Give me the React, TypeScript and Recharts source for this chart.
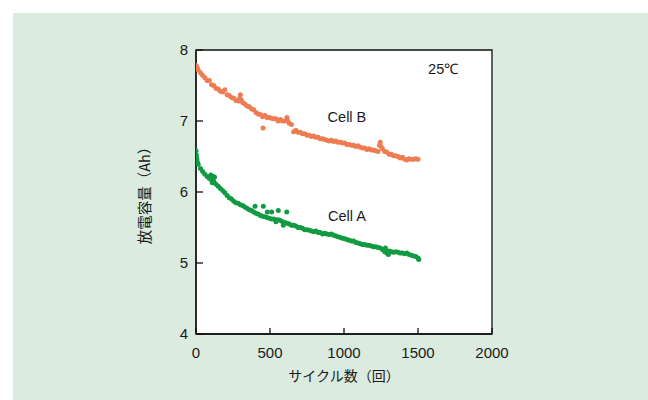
import React from 'react';
import {
  ScatterChart,
  Scatter,
  XAxis,
  YAxis,
  CartesianGrid,
  ReferenceArea,
  ReferenceDot,
} from 'recharts';

// ---- Data ----
const xTicks = [0, 500, 1000, 1500, 2000];
const yTicks = [4, 5, 6, 7, 8];

const cellBCycles = [
  0, 5, 10, 15, 30, 45, 60, 75, 90, 105, 120, 135, 150, 165, 180, 195, 210, 225, 240, 255,
  270, 285, 295, 300, 305, 315, 330, 345, 360, 375, 390, 405, 420, 435, 450, 453, 465, 480, 495, 510,
  525, 540, 555, 570, 585, 600, 615, 620, 630, 645, 660, 675, 690, 705, 720, 735, 750, 765, 780, 795,
  810, 825, 840, 855, 870, 885, 900, 915, 930, 945, 960, 975, 990, 1005, 1020, 1035, 1050, 1065, 1080, 1095,
  1110, 1125, 1140, 1155, 1170, 1185, 1200, 1215, 1230, 1240, 1245, 1250, 1260, 1275, 1290, 1305, 1320, 1335, 1350, 1365,
  1380, 1395, 1410, 1425, 1440, 1455, 1470, 1485, 1500,
];
const cellBCapacity = [
  7.78, 7.76, 7.74, 7.72, 7.68, 7.64, 7.61, 7.57, 7.57, 7.51, 7.5, 7.46, 7.45, 7.42, 7.41, 7.44, 7.37, 7.36, 7.33, 7.32,
  7.29, 7.28, 7.32, 7.37, 7.3, 7.26, 7.24, 7.21, 7.2, 7.17, 7.16, 7.12, 7.1, 7.09, 7.06, 6.9, 7.08, 7.05, 7.05, 7.04,
  7.03, 7.03, 7.0, 7.02, 7.0, 7.0, 7.05, 7.0, 6.97, 6.95, 6.85, 6.87, 6.84, 6.84, 6.82, 6.82, 6.8, 6.8, 6.78, 6.79,
  6.77, 6.77, 6.75, 6.75, 6.74, 6.73, 6.72, 6.73, 6.71, 6.72, 6.7, 6.7, 6.69, 6.69, 6.67, 6.67, 6.66, 6.66, 6.64, 6.65,
  6.63, 6.62, 6.62, 6.6, 6.61, 6.59, 6.59, 6.58, 6.57, 6.66, 6.7, 6.64, 6.61, 6.57, 6.56, 6.53, 6.53, 6.51, 6.51, 6.5,
  6.48, 6.49, 6.46, 6.45, 6.47, 6.46, 6.46, 6.47, 6.46,
];

const cellACycles = [
  0, 3, 6, 10, 15, 30, 45, 60, 75, 90, 100, 105, 110, 115, 120, 125, 135, 150, 165, 180,
  195, 210, 225, 240, 255, 270, 285, 300, 315, 330, 345, 360, 375, 390, 399, 405, 420, 435, 450, 455,
  465, 480, 482, 495, 510, 511, 525, 540, 540, 555, 556, 570, 585, 590, 600, 613, 615, 630, 645, 660,
  675, 690, 705, 720, 735, 750, 765, 780, 795, 810, 825, 840, 855, 870, 885, 900, 915, 930, 945, 960,
  975, 990, 1005, 1020, 1035, 1050, 1065, 1080, 1095, 1110, 1125, 1140, 1155, 1170, 1185, 1200, 1215, 1230, 1245, 1260,
  1275, 1280, 1290, 1300, 1305, 1320, 1335, 1350, 1365, 1380, 1395, 1410, 1425, 1440, 1455, 1470, 1485, 1500, 1505,
];
const cellACapacity = [
  6.58, 6.52, 6.47, 6.42, 6.39, 6.33, 6.29, 6.25, 6.22, 6.19, 6.24, 6.17, 6.13, 6.22, 6.15, 6.21, 6.11, 6.08, 6.05, 6.02,
  5.99, 5.95, 5.92, 5.9, 5.87, 5.85, 5.84, 5.82, 5.81, 5.79, 5.77, 5.75, 5.74, 5.72, 5.8, 5.7, 5.69, 5.67, 5.66, 5.8,
  5.65, 5.64, 5.72, 5.63, 5.62, 5.72, 5.62, 5.61, 5.58, 5.61, 5.74, 5.6, 5.58, 5.53, 5.57, 5.72, 5.56, 5.55, 5.53, 5.53,
  5.52, 5.5, 5.5, 5.49, 5.47, 5.47, 5.46, 5.45, 5.44, 5.45, 5.43, 5.43, 5.41, 5.42, 5.41, 5.4, 5.41, 5.39, 5.38, 5.37,
  5.36, 5.35, 5.34, 5.33, 5.32, 5.31, 5.31, 5.29, 5.28, 5.27, 5.26, 5.26, 5.25, 5.25, 5.24, 5.23, 5.23, 5.22, 5.21, 5.19,
  5.16, 5.21, 5.14, 5.12, 5.17, 5.16, 5.15, 5.16, 5.15, 5.14, 5.14, 5.13, 5.14, 5.12, 5.11, 5.1, 5.09, 5.07, 5.05,
];

const cellBData = cellBCycles.map((c, i) => ({ cycle: c, cap: cellBCapacity[i] }));
const cellAData = cellACycles.map((c, i) => ({ cycle: c, cap: cellACapacity[i] }));

const ORANGE = '#ee7c52';
const GREEN = '#129a42';
const LATIN = '"Liberation Sans", Arial, Helvetica, sans-serif';
const CJK = '"Noto Sans CJK JP", "Noto Sans", sans-serif';

const makeDot = (color: string) => (props: any) => (
  <circle cx={props.cx} cy={props.cy} r={2.5} fill={color} stroke="none" />
);

export default function App() {
  return (
    <div style={{ position: 'absolute', left: 0, top: 0, width: 648, height: 400, background: '#ffffff', overflow: 'hidden' }}>
      <div style={{ position: 'absolute', left: 13, top: 13, right: 0, bottom: 0, background: '#dcebdf' }} />
      <div style={{ position: 'absolute', left: 0, top: 0 }}>
        <ScatterChart
          width={648}
          height={400}
          margin={{ top: 50, right: 156, bottom: 26, left: 94 }}
          style={{ fontFamily: LATIN }}
        >
          <CartesianGrid fill="#ffffff" horizontal={false} vertical={false} stroke="none" />
          <XAxis
            type="number"
            dataKey="cycle"
            domain={[0, 2000]}
            ticks={xTicks}
            height={40}
            tickSize={-6}
            tickMargin={19}
            axisLine={{ stroke: '#111', strokeWidth: 1.3 }}
            tickLine={{ stroke: '#111', strokeWidth: 1.3 }}
            tick={{ fill: '#1a1a1a', fontSize: 15, fontFamily: LATIN }}
            allowDataOverflow
            label={{
              value: 'サイクル数（回）',
              position: 'insideBottom',
              offset: -7,
              style: { fontFamily: CJK, fontSize: 14, fill: '#1a1a1a' },
            }}
          />
          <YAxis
            type="number"
            dataKey="cap"
            domain={[4, 8]}
            ticks={yTicks}
            width={102}
            tickSize={-7}
            tickMargin={15}
            axisLine={{ stroke: '#111', strokeWidth: 1.3 }}
            tickLine={{ stroke: '#111', strokeWidth: 1.3 }}
            tick={{ fill: '#1a1a1a', fontSize: 15, fontFamily: LATIN }}
            allowDataOverflow
            label={{
              value: '放電容量（Ah）',
              position: 'center',
              angle: -90,
              style: { fontFamily: CJK, fontSize: 14.5, fill: '#1a1a1a', textAnchor: 'middle' },
            }}
          />
          <ReferenceArea x1={0} x2={2000} y1={4} y2={8} fill="none" fillOpacity={0} stroke="#111" strokeWidth={1.3} />
          <Scatter name="Cell B" data={cellBData} fill={ORANGE} shape={makeDot(ORANGE)} isAnimationActive={false} />
          <Scatter name="Cell A" data={cellAData} fill={GREEN} shape={makeDot(GREEN)} isAnimationActive={false} />
          <ReferenceDot
            x={1020}
            y={7.06}
            r={0}
            fill="none"
            stroke="none"
            label={{ value: 'Cell B', position: 'center', style: { fontSize: 14.5, fill: '#1a1a1a', fontFamily: LATIN } }}
          />
          <ReferenceDot
            x={1020}
            y={5.66}
            r={0}
            fill="none"
            stroke="none"
            label={{ value: 'Cell A', position: 'center', style: { fontSize: 14.5, fill: '#1a1a1a', fontFamily: LATIN } }}
          />
          <ReferenceDot
            x={1670}
            y={7.73}
            r={0}
            fill="none"
            stroke="none"
            label={{ value: '25℃', position: 'center', style: { fontSize: 14.5, fill: '#1a1a1a', fontFamily: LATIN } }}
          />
        </ScatterChart>
      </div>
    </div>
  );
}
